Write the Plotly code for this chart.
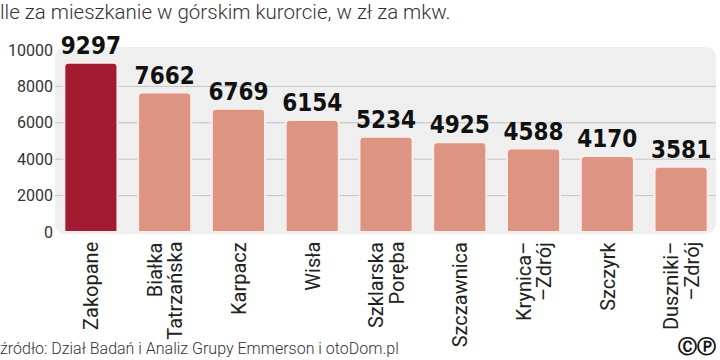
import plotly.graph_objects as go

categories = [["Zakopane"], ["Białka", "Tatrzańska"], ["Karpacz"], ["Wisła"], ["Szklarska", "Poręba"],
              ["Szczawnica"], ["Krynica–", "–Zdrój"], ["Szczyrk"], ["Duszniki–", "–Zdrój"]]
values = [9297, 7662, 6769, 6154, 5234, 4925, 4588, 4170, 3581]
y_ticks = [0, 2000, 4000, 6000, 8000, 10000]

title_text = "lle za mieszkanie w górskim kurorcie, w zł za mkw."
source_text = "źródło: Dział Badań i Analiz Grupy Emmerson i otoDom.pl"

x_idx = list(range(len(categories)))
colors = ["#a21b32"] + ["#de9483"] * (len(values) - 1)

PW, PH = 664, 182  # plot area in px

fig = go.Figure()
fig.add_trace(go.Bar(
    x=x_idx, y=values,
    marker=dict(color=colors, line=dict(color="#fbeeea", width=2), cornerradius=4),
    width=0.72,
    text=[str(v) for v in values],
    textposition="outside",
    textfont=dict(family="DejaVu Sans Condensed, Liberation Sans Narrow, sans-serif",
                  size=24, color="#111111", weight="bold"),
    constraintext="none",
    cliponaxis=False,
))

# background panel with rounded corners
x0, x1 = 1 / PW, 662 / PW
y0, y1 = -2 / PH, 1 + 3 / PH
rx, ry = 12 / PW, 12 / PH
path = (f"M {x0+rx},{y0} L {x1-rx},{y0} Q {x1},{y0} {x1},{y0+ry} L {x1},{y1-ry} "
        f"Q {x1},{y1} {x1-rx},{y1} L {x0+rx},{y1} Q {x0},{y1} {x0},{y1-ry} "
        f"L {x0},{y0+ry} Q {x0},{y0} {x0+rx},{y0} Z")
fig.add_shape(type="path", xref="paper", yref="paper", path=path,
              fillcolor="#efefef", line=dict(width=0), layer="below")

for t in y_ticks[1:-1]:
    fig.add_shape(type="line", xref="paper", yref="y", x0=x0, x1=x1, y0=t, y1=t,
                  line=dict(color="#c4c4c4", width=1), layer="below")

for i, lines in enumerate(categories):
    n = len(lines)
    for j, ln in enumerate(lines):
        off = (j - (n - 1) / 2) * 20
        fig.add_annotation(x=i, y=0, xref="x", yref="paper", yshift=-8, xshift=off,
                           text=ln, textangle=-90,
                           xanchor="center", yanchor="top", showarrow=False,
                           font=dict(family="Roboto, sans-serif", size=20, color="#222222"))

fig.add_annotation(x=0, y=1, xref="paper", yref="paper", xshift=-56, yshift=52,
                   text=title_text, showarrow=False, xanchor="left", yanchor="top",
                   font=dict(family="Roboto, sans-serif", size=20.5, color="#333333", weight=300))
fig.add_annotation(x=0, y=0, xref="paper", yref="paper", xshift=-56, yshift=-128,
                   text=source_text, showarrow=False, xanchor="left", yanchor="bottom",
                   font=dict(family="Roboto, sans-serif", size=16, color="#333333", weight=300))
fig.add_annotation(x=1, y=0, xref="paper", yref="paper", xshift=0, yshift=-127,
                   text="<b>ⒸⓅ</b>", showarrow=False, xanchor="right", yanchor="bottom",
                   font=dict(family="DejaVu Sans, sans-serif", size=19, color="#111111"))

fig.update_layout(
    width=720, height=360,
    margin=dict(l=54, r=2, t=50, b=128),
    paper_bgcolor="white", plot_bgcolor="rgba(0,0,0,0)",
    showlegend=False,
    xaxis=dict(range=[-0.5, len(categories) - 0.5], showticklabels=False, showgrid=False,
               zeroline=False, showline=False, ticks=""),
    yaxis=dict(range=[0, 10000], tickvals=y_ticks, ticktext=[str(t) for t in y_ticks],
               showgrid=False, zeroline=False,
               tickfont=dict(family="Roboto, sans-serif", size=16, color="#333333"),
               ticks="", showline=False),
)

fig.write_html("out.html")
